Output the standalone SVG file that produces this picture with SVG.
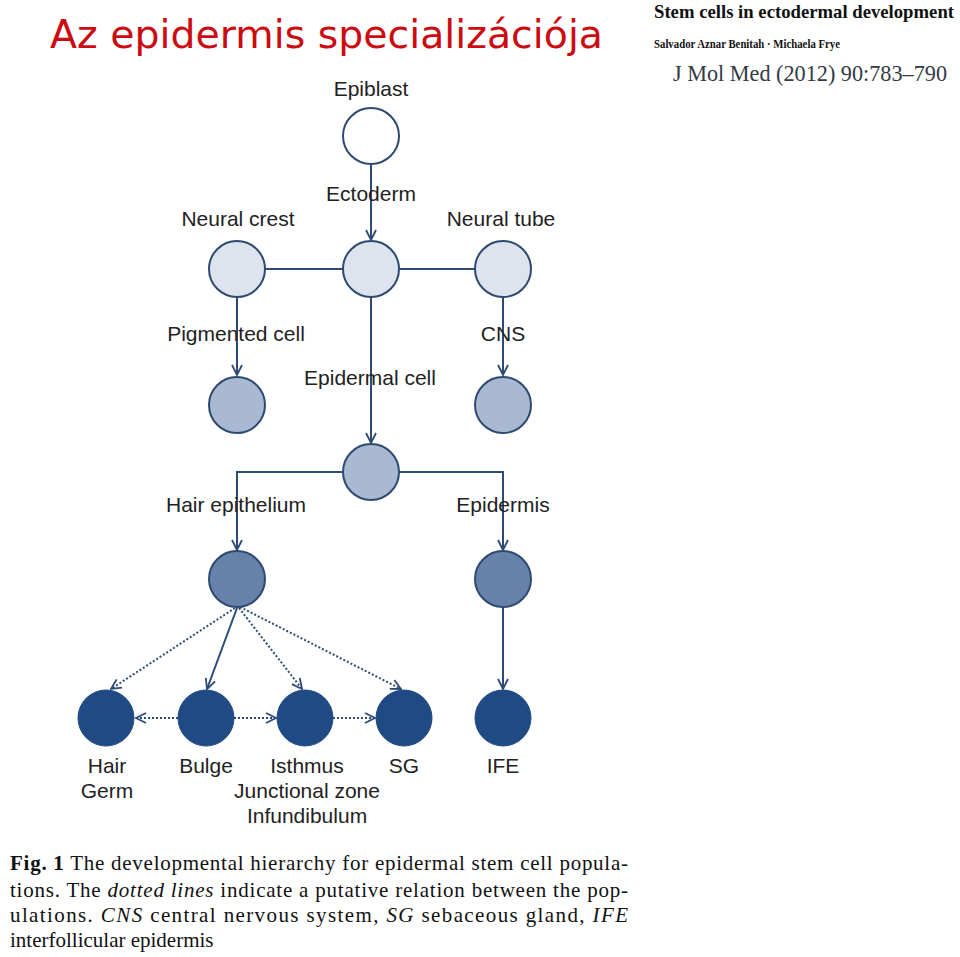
<svg xmlns="http://www.w3.org/2000/svg" width="960" height="957" viewBox="0 0 960 957">
<defs>
<marker id="arr" viewBox="0 0 12 12" refX="11" refY="6" markerWidth="12" markerHeight="12" markerUnits="userSpaceOnUse" orient="auto">
<path d="M1,1 L11,6 L1,11" fill="none" stroke="#2e4b78" stroke-width="1.8"/>
</marker>
</defs>
<style>
.lbl{font-family:"Liberation Sans",Arial,sans-serif;font-size:21px;fill:#222;text-anchor:middle}
.c{stroke:#2f4a70;stroke-width:2}
.w{fill:#ffffff}
.l1{fill:#dde4ee}
.l2{fill:#a9b9d1}
.l3{fill:#6682aa}
.l4{fill:#1f4a84;stroke:#1f4a84}
.ln{stroke:#2e4b78;stroke-width:2;fill:none}
.dot{stroke:#2e4b78;stroke-width:2;fill:none;stroke-dasharray:2 2}
.cap{font-family:"Liberation Serif","Times New Roman",serif;font-size:21px;fill:#111}
</style>
<rect width="960" height="957" fill="#ffffff"/>

<text x="50" y="48" font-family="DejaVu Sans,sans-serif" font-size="39" fill="#cc0a10" textLength="553" lengthAdjust="spacingAndGlyphs">Az epidermis specializációja</text>

<text x="654" y="18" font-family="Liberation Serif,serif" font-weight="bold" font-size="19" fill="#111" textLength="300" lengthAdjust="spacingAndGlyphs">Stem cells in ectodermal development</text>
<text x="654" y="48" font-family="Liberation Serif,serif" font-weight="bold" font-size="11.5" fill="#111" textLength="186" lengthAdjust="spacingAndGlyphs">Salvador Aznar Benitah · Michaela Frye</text>
<text x="673" y="81" font-family="Liberation Serif,serif" font-size="23" fill="#333a44" textLength="274" lengthAdjust="spacingAndGlyphs">J Mol Med (2012) 90:783–790</text>

<g id="connectors">
<line class="ln" x1="371" y1="164" x2="371" y2="240" marker-end="url(#arr)"/>
<line class="ln" x1="265" y1="269" x2="343" y2="269"/>
<line class="ln" x1="399" y1="269" x2="475" y2="269"/>
<line class="ln" x1="237" y1="297" x2="237" y2="375" marker-end="url(#arr)"/>
<line class="ln" x1="371" y1="297" x2="371" y2="443" marker-end="url(#arr)"/>
<line class="ln" x1="503" y1="297" x2="503" y2="375" marker-end="url(#arr)"/>
<polyline class="ln" points="343,472 237,472 237,550" marker-end="url(#arr)"/>
<polyline class="ln" points="399,472 503,472 503,550" stroke-width="2.6" marker-end="url(#arr)"/>
<line class="dot" x1="235" y1="608" x2="111" y2="689" marker-end="url(#arr)"/>
<line class="ln" x1="237" y1="608" x2="207" y2="689" marker-end="url(#arr)"/>
<line class="dot" x1="239" y1="608" x2="302" y2="689" marker-end="url(#arr)"/>
<line class="dot" x1="240" y1="607" x2="401" y2="689" marker-end="url(#arr)"/>
<line class="ln" x1="503" y1="607" x2="503" y2="689" marker-end="url(#arr)"/>
<line class="dot" x1="178" y1="718" x2="136" y2="718" marker-end="url(#arr)"/>
<line class="dot" x1="234" y1="718" x2="276" y2="718" marker-end="url(#arr)"/>
<line class="dot" x1="333" y1="718" x2="375" y2="718" marker-end="url(#arr)"/>
</g>

<g id="epiblast"><circle class="c w" cx="371" cy="136" r="28"/><text class="lbl" x="371" y="96">Epiblast</text></g>
<g id="ectoderm"><circle class="c l1" cx="371" cy="269" r="28"/><text class="lbl" x="371" y="201">Ectoderm</text></g>
<g id="neural-crest"><circle class="c l1" cx="237" cy="269" r="28"/><text class="lbl" x="238" y="226">Neural crest</text></g>
<g id="neural-tube"><circle class="c l1" cx="503" cy="269" r="28"/><text class="lbl" x="501" y="226">Neural tube</text></g>
<g id="pigmented-cell"><circle class="c l2" cx="237" cy="405" r="28"/><text class="lbl" x="236" y="341">Pigmented cell</text></g>
<g id="cns"><circle class="c l2" cx="503" cy="405" r="28"/><text class="lbl" x="503" y="341">CNS</text></g>
<g id="epidermal-cell"><circle class="c l2" cx="371" cy="472" r="28"/><text class="lbl" x="370" y="385">Epidermal cell</text></g>
<g id="hair-epithelium"><circle class="c l3" cx="237" cy="579" r="28"/><text class="lbl" x="236" y="512">Hair epithelium</text></g>
<g id="epidermis"><circle class="c l3" cx="503" cy="579" r="28"/><text class="lbl" x="503" y="512">Epidermis</text></g>
<g id="hair-germ"><circle class="l4" cx="106" cy="718" r="28"/><text class="lbl" x="107" y="773">Hair</text><text class="lbl" x="107" y="798">Germ</text></g>
<g id="bulge"><circle class="l4" cx="206" cy="718" r="28"/><text class="lbl" x="206" y="773">Bulge</text></g>
<g id="isthmus"><circle class="l4" cx="305" cy="718" r="28"/><text class="lbl" x="307" y="773">Isthmus</text><text class="lbl" x="307" y="798">Junctional zone</text><text class="lbl" x="307" y="823">Infundibulum</text></g>
<g id="sg"><circle class="l4" cx="404" cy="718" r="28"/><text class="lbl" x="404" y="773">SG</text></g>
<g id="ife"><circle class="l4" cx="503" cy="718" r="28"/><text class="lbl" x="503" y="773">IFE</text></g>

<g id="caption">
<text class="cap" x="10" y="870" textLength="618" lengthAdjust="spacing"><tspan font-weight="bold">Fig. 1</tspan> The developmental hierarchy for epidermal stem cell popula-</text>
<text class="cap" x="10" y="897" textLength="618" lengthAdjust="spacing">tions. The <tspan font-style="italic">dotted lines</tspan> indicate a putative relation between the pop-</text>
<text class="cap" x="10" y="922" textLength="618" lengthAdjust="spacing">ulations. <tspan font-style="italic">CNS</tspan> central nervous system, <tspan font-style="italic">SG</tspan> sebaceous gland, <tspan font-style="italic">IFE</tspan></text>
<text class="cap" x="10" y="947">interfollicular epidermis</text>
</g>
</svg>
